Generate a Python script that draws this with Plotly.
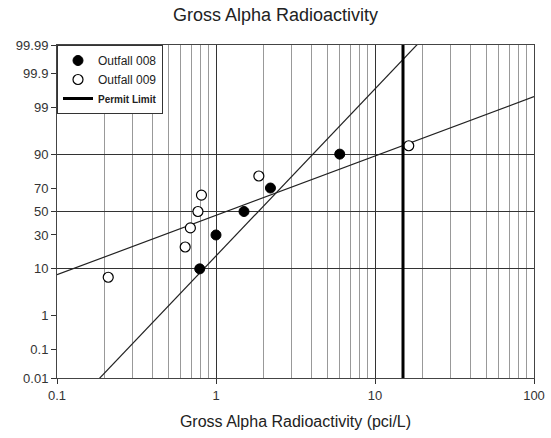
import numpy as np
import plotly.graph_objects as go
from statistics import NormalDist

# ---- data ----
outfall_008_values = [0.79, 1.0, 1.5, 2.2, 6.0]
outfall_008_pct = [10, 30, 50, 70, 90]
outfall_009_values = [0.21, 0.64, 0.69, 0.77, 0.81, 1.86, 16.3]
outfall_009_pct = [7.1, 21.4, 35.7, 50, 64.3, 78.6, 92.9]
permit_limit = 15
# lognormal fit lines (log10 median, log10 sigma)
fit_008 = dict(mu=0.266, sigma=0.268)
fit_009 = dict(mu=0.065, sigma=0.754)
y_tick_pct = [0.01, 0.1, 1, 10, 30, 50, 70, 90, 99, 99.9, 99.99]
y_tick_text = ["0.01", "0.1", "1", "10", "30", "50", "70", "90", "99", "99.9", "99.99"]
y_grid_pct = [10, 50, 90]
x_tick_vals = [0.1, 1, 10, 100]
x_tick_text = ["0.1", "1", "10", "100"]

nd = NormalDist()
def z(p):
    return nd.inv_cdf(p / 100.0)

zmin, zmax = z(0.01), z(99.99)

fig = go.Figure()

xs = np.logspace(-1, 2, 200)
for f in (fit_008, fit_009):
    fig.add_trace(go.Scatter(
        x=xs, y=(np.log10(xs) - f["mu"]) / f["sigma"], mode="lines",
        line=dict(color="#222", width=1.2), showlegend=False, hoverinfo="skip"))

fig.add_trace(go.Scatter(
    x=outfall_008_values, y=[z(p) for p in outfall_008_pct], mode="markers",
    name="Outfall 008",
    marker=dict(size=10, color="black", line=dict(color="black", width=1))))
fig.add_trace(go.Scatter(
    x=outfall_009_values, y=[z(p) for p in outfall_009_pct], mode="markers",
    name="Outfall 009",
    marker=dict(size=10, color="white", line=dict(color="black", width=1.2))))
fig.add_trace(go.Scatter(
    x=[permit_limit, permit_limit], y=[zmin, zmax], mode="lines",
    name="<span style='font-size:10px;font-weight:bold'>Permit Limit</span>",
    line=dict(color="black", width=3)))

minor_x = [m * 10.0 ** e for e in (-1, 0, 1) for m in range(2, 10)]

fig.update_xaxes(
    type="log", range=[-1, 2], tickvals=x_tick_vals, ticktext=x_tick_text,
    showgrid=True, gridcolor="#333", gridwidth=1,
    minor=dict(tickvals=minor_x, showgrid=True, gridcolor="#999", gridwidth=1, ticks=""),
    ticks="outside", ticklen=5, tickcolor="#333",
    showline=True, linecolor="#444", linewidth=1, mirror=True,
    zeroline=False, automargin=False,
    title=dict(text="Gross Alpha Radioactivity (pci/L)", font=dict(size=16, color="#222"), standoff=14),
    tickfont=dict(size=13, color="#333"))

fig.update_yaxes(
    range=[zmin, zmax], tickvals=[z(p) for p in y_tick_pct], ticktext=y_tick_text,
    showgrid=False,
    minor=dict(tickvals=[z(p) for p in y_grid_pct], showgrid=True, gridcolor="#333", gridwidth=1, ticks=""),
    ticks="outside", ticklen=5, tickcolor="#333",
    showline=True, linecolor="#444", linewidth=1, mirror=True,
    zeroline=False, automargin=False,
    tickfont=dict(size=13, color="#333"))

fig.update_layout(
    width=551, height=438,
    margin=dict(l=57, r=17, t=45, b=60),
    paper_bgcolor="white", plot_bgcolor="white",
    font=dict(family="Liberation Sans, Arial, sans-serif", color="#222"),
    title=dict(text="Gross Alpha Radioactivity", x=0.5, xanchor="center", y=0.966, yanchor="middle",
               font=dict(size=18, color="#222"), automargin=False),
    legend=dict(x=0, y=1, xanchor="left", yanchor="top", bgcolor="white",
                bordercolor="#333", borderwidth=1, font=dict(size=12, color="#222"),
                tracegroupgap=0, itemwidth=30),
    showlegend=True,
)

fig.write_html("out.html", config={"displayModeBar": False},
               post_script="document.body.style.margin='0';")
